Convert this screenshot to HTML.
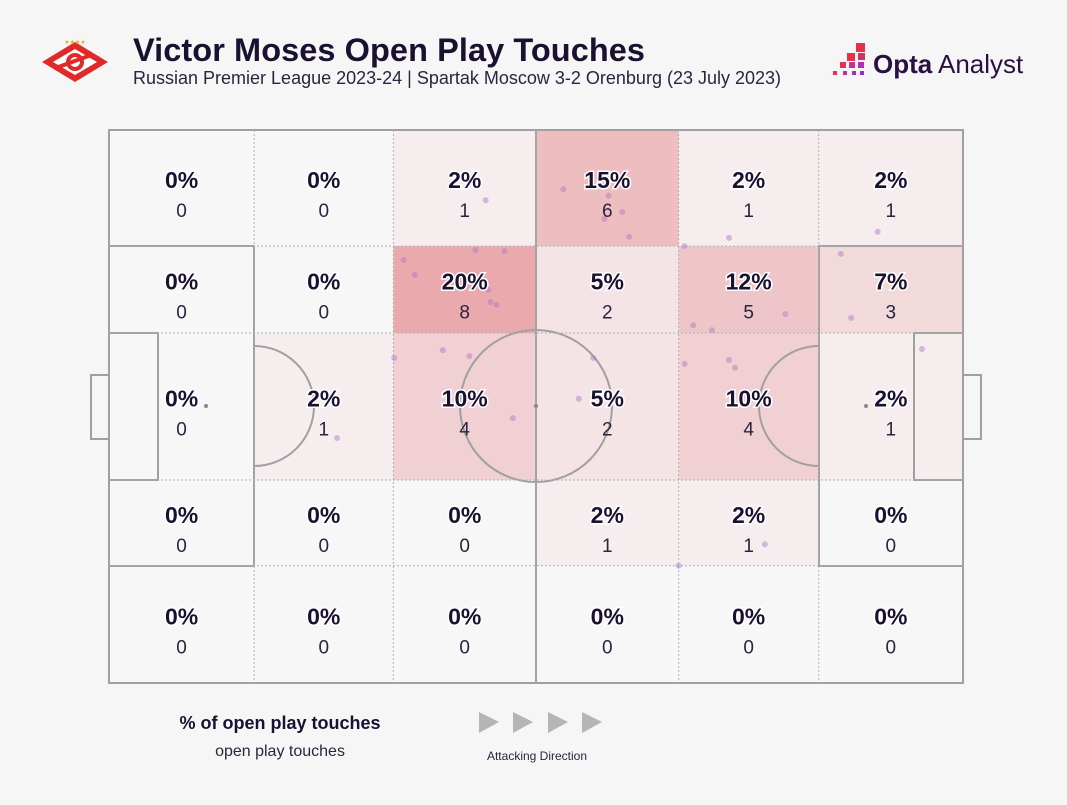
<!DOCTYPE html>
<html><head><meta charset="utf-8"><style>
body{margin:0;background:#f6f6f6;width:1067px;height:800px;overflow:hidden;font-family:"Liberation Sans",sans-serif;}
</style></head><body>
<svg width="1067" height="800" viewBox="0 0 1067 800">
<rect width="1067" height="800" fill="#f6f6f6"/>
<g>
  <polygon points="75,42 108,62 75,82 42,62" fill="#e02a2a"/>
  <polygon points="75,49 97,62 75,75 53,62" fill="#fff"/>
  <circle cx="75" cy="62" r="9" fill="#e02a2a"/>
  <circle cx="75" cy="62" r="5" fill="#fff"/>
  <rect x="58" y="59" width="34" height="4" fill="#e02a2a" transform="rotate(-20 75 62)"/>
  <text x="75" y="44" font-size="6" fill="#e8b400" text-anchor="middle">★★★★</text>
</g>
<text x="133" y="61" font-size="32.5" font-weight="bold" fill="#1a1030" textLength="512">Victor Moses Open Play Touches</text>
<text x="133" y="84" font-size="18" fill="#2a2440">Russian Premier League 2023-24 | Spartak Moscow 3-2 Orenburg (23 July 2023)</text>
<g>
  <rect x="856" y="43" width="9" height="9" fill="#e8304a"/>
  <rect x="847" y="53" width="8" height="8" fill="#e8304a"/><rect x="858" y="53" width="7" height="7" fill="#d6306a"/>
  <rect x="840" y="62" width="6" height="6" fill="#e8304a"/><rect x="849" y="62" width="6" height="6" fill="#d0308a"/><rect x="858" y="62" width="6" height="6" fill="#b030b0"/>
  <rect x="833" y="71" width="4" height="4" fill="#e8304a"/><rect x="843" y="71" width="4" height="4" fill="#c030a0"/><rect x="852" y="71" width="4" height="4" fill="#a030c0"/><rect x="860" y="71" width="4" height="4" fill="#9030d0"/>
  <text x="873" y="73" font-size="26" font-weight="bold" fill="#2a1040">Opta</text>
  <text x="938" y="73" font-size="26" fill="#2a1040">Analyst</text>
</g>
<g id="cells"></g>
<g id="lines" fill="none" stroke="#a0a0a0" stroke-width="2">
  <rect x="109" y="130" width="854" height="553"/>
  <line x1="536" y1="130" x2="536" y2="683"/>
  <circle cx="536" cy="406" r="76"/>
  <rect x="109" y="246" width="145" height="320"/>
  <rect x="109" y="333" width="49" height="147"/>
  <rect x="91" y="375" width="18" height="64"/>
  <rect x="819" y="246" width="144" height="320"/>
  <rect x="914" y="333" width="49" height="147"/>
  <rect x="963" y="375" width="18" height="64"/>
  <path d="M254,346 A60,60 0 0 1 254,466"/>
  <path d="M819,346 A60,60 0 0 0 819,466"/>
</g>
<g id="dotted" stroke="#b0b0b0" stroke-width="1" stroke-dasharray="2,2"></g>
<circle cx="206" cy="406" r="2" fill="#888"/>
<circle cx="866" cy="406" r="2" fill="#888"/>
<circle cx="536" cy="406" r="2" fill="#888"/>
<g id="dots"></g>
<g id="labels"></g>
<text x="280" y="729" font-size="18" font-weight="bold" fill="#1a1030" text-anchor="middle">% of open play touches</text>
<text x="280" y="756" font-size="16" fill="#2a2440" text-anchor="middle">open play touches</text>
<g fill="#b5b5b5">
  <polygon points="479,712 499,722 479,733"/><polygon points="513,712 533,722 513,733"/>
  <polygon points="548,712 568,722 548,733"/><polygon points="582,712 602,722 582,733"/>
</g>
<text x="537" y="760" font-size="12" fill="#2a2440" text-anchor="middle">Attacking Direction</text>
</svg>
<script>
const colEdges=[0,17,33.3,50,66.7,83.1,100];
const rowEdges=[0,21,36.7,63.3,78.8,100];
const counts=[[0,0,1,6,1,1],[0,0,8,2,5,3],[0,1,4,2,4,1],[0,0,0,1,1,0],[0,0,0,0,0,0]];
const pcts=[["0%","0%","2%","15%","2%","2%"],["0%","0%","20%","5%","12%","7%"],["0%","2%","10%","5%","10%","2%"],["0%","0%","0%","2%","2%","0%"],["0%","0%","0%","0%","0%","0%"]];
const dotX=[44.1,53.2,58.5,60.1,58.0,60.9,72.6,90.0,67.4,42.9,46.3,34.5,35.8,85.7,44.4,44.7,45.4,79.2,68.4,86.9,70.6,39.1,42.2,56.7,72.6,95.2,33.4,67.4,73.3,55.0,47.3,26.7,76.8,66.7];
const dotY=[12.7,10.7,11.9,14.8,16.1,19.3,19.5,18.4,21.0,21.7,21.9,23.5,26.2,22.4,28.9,31.1,31.6,33.3,35.3,34.0,36.2,39.8,40.9,41.2,41.6,39.6,41.2,42.3,43.0,48.6,52.1,55.7,74.9,78.8];
const X=v=>109+v/100*854, Y=v=>130+v/100*553;
const NS="http://www.w3.org/2000/svg";
function mk(t,a,p){const e=document.createElementNS(NS,t);for(const k in a)e.setAttribute(k,a[k]);p.appendChild(e);return e;}
function col(c){const m=8;const t=Math.min(c/m,1);const r=Math.round(247-(247-233)*t),g=Math.round(247-(247-169)*t),b=Math.round(247-(247-173)*t);return c===0?"#f7f7f7":`rgb(${r},${g},${b})`;}
const cg=document.getElementById('cells'),lg=document.getElementById('labels'),dg=document.getElementById('dotted'),dt=document.getElementById('dots');
for(let r=0;r<5;r++)for(let c=0;c<6;c++){
 const x0=X(colEdges[c]),x1=X(colEdges[c+1]),y0=Y(rowEdges[r]),y1=Y(rowEdges[r+1]);
 const rc=mk('rect',{x:x0,y:y0,width:x1-x0,height:y1-y0,fill:col(counts[r][c])},cg);
 
 
 const cx=(x0+x1)/2,cy=(y0+y1)/2;
 const t1=mk('text',{x:cx,y:cy+0,'font-size':23,'font-weight':'bold',fill:'#1a1030','text-anchor':'middle',stroke:'#fff','stroke-width':3,'paint-order':'stroke'},lg);t1.textContent=pcts[r][c];
 
 
 const t2=mk('text',{x:cx,y:cy+29,'font-size':19,fill:'#2a2440','text-anchor':'middle'},lg);t2.textContent=counts[r][c];
 
 
}
for(let i=1;i<6;i++){mk('line',{x1:X(colEdges[i]),x2:X(colEdges[i]),y1:130,y2:683},dg);}
for(let i=1;i<5;i++){mk('line',{x1:109,x2:963,y1:Y(rowEdges[i]),y2:Y(rowEdges[i])},dg);}
for(let i=0;i<dotX.length;i++){const d=mk('circle',{cx:X(dotX[i]),cy:Y(dotY[i]),r:3,fill:'#b070c8','fill-opacity':0.45},dt);
 
 }
</script>
</body></html>
